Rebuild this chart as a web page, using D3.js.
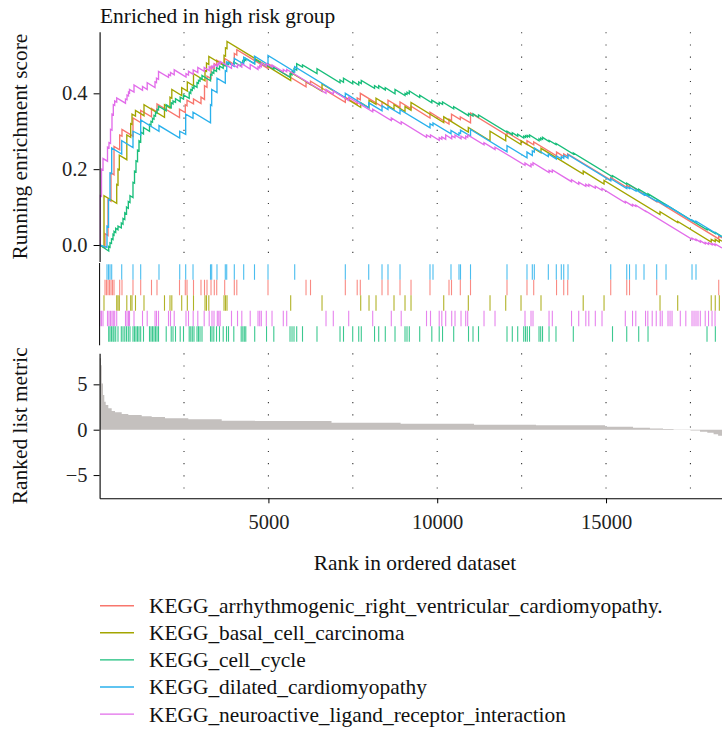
<!DOCTYPE html>
<html>
<head>
<meta charset="utf-8">
<script src="https://cdn.jsdelivr.net/npm/d3@7"></script>
<style>
  html, body { margin: 0; padding: 0; background: #ffffff; }
  svg { display: block; }
</style>
</head>
<body>
<svg id="chart" width="722" height="729" font-family="'Liberation Serif', 'Times New Roman', Times, serif"></svg>
<script>
// ---------------- data ----------------
const geneSets = [
  "KEGG_arrhythmogenic_right_ventricular_cardiomyopathy.",
  "KEGG_basal_cell_carcinoma",
  "KEGG_cell_cycle",
  "KEGG_dilated_cardiomyopathy",
  "KEGG_neuroactive_ligand_receptor_interaction"
];
const setColors = ["#F8766D", "#A3A500", "#19BE7B", "#2AB1EC", "#E26DEA"];
// top-to-bottom order of the hit rows
const rugOrder = [3, 0, 1, 4, 2];

const totalGenes = 18435;
const xTicks = [5000, 10000, 15000];
const gridRanks = [2500, 5000, 7500, 10000, 12500, 15000, 17500];
const esTicks = [0.0, 0.2, 0.4];
const metricTicks = [-5, 0, 5];

// running enrichment score, [rank, score]
const esArrhythmogenic = [[1,0],[160,-0.008],[160,0.03],[249,0.025],[249,0.12],[338,0.115],[338,0.19],[427,0.185],[427,0.26],[595,0.251],[595,0.29],[663,0.287],[663,0.305],[989,0.287],[989,0.335],[1217,0.323],[1217,0.355],[1537,0.338],[1537,0.36],[1700,0.351],[1700,0.372],[2367,0.336],[2367,0.358],[2538,0.349],[2538,0.37],[2589,0.367],[2589,0.382],[2781,0.372],[2781,0.385],[3003,0.373],[3003,0.39],[3107,0.384],[3107,0.42],[3181,0.416],[3181,0.445],[3300,0.439],[3300,0.47],[3397,0.465],[3397,0.478],[3469,0.474],[3469,0.487],[3705,0.474],[3705,0.492],[3990,0.476],[3990,0.505],[4064,0.501],[4064,0.515],[4988,0.465],[4988,0.478],[6114,0.417],[6114,0.43],[6247,0.423],[6247,0.432],[7278,0.376],[7278,0.39],[7630,0.371],[7630,0.388],[7722,0.383],[7722,0.4],[8365,0.365],[8365,0.378],[8542,0.368],[8542,0.382],[8898,0.363],[8898,0.377],[9224,0.359],[9224,0.366],[9786,0.335],[9786,0.35],[10349,0.319],[10349,0.332],[10423,0.328],[10423,0.345],[10684,0.331],[10684,0.338],[10986,0.322],[10986,0.348],[12067,0.289],[12067,0.297],[12659,0.265],[12659,0.275],[12858,0.264],[12858,0.272],[13534,0.235],[13534,0.245],[13747,0.233],[13747,0.24],[13865,0.234],[13865,0.24],[15139,0.171],[15139,0.178],[15613,0.152],[15613,0.158],[15696,0.153],[15696,0.158],[16501,0.114],[16501,0.116],[18338,0.016],[18338,0.024],[18435,0.019]];

const esBasalCell = [[1,0],[130,-0.006],[130,0.13],[507,0.11],[507,0.16],[545,0.158],[545,0.2],[584,0.198],[584,0.237],[806,0.225],[806,0.29],[921,0.284],[921,0.32],[960,0.318],[960,0.345],[1063,0.34],[1063,0.355],[1315,0.341],[1315,0.37],[1922,0.337],[1922,0.37],[2085,0.361],[2085,0.39],[2139,0.387],[2139,0.41],[2432,0.394],[2432,0.415],[2598,0.406],[2598,0.43],[2781,0.42],[2781,0.452],[3122,0.433],[3122,0.46],[3166,0.458],[3166,0.48],[3235,0.476],[3235,0.497],[3685,0.473],[3685,0.5],[3729,0.498],[3729,0.52],[3774,0.518],[3774,0.537],[5660,0.434],[5660,0.455],[6588,0.405],[6588,0.425],[7734,0.363],[7734,0.375],[7980,0.362],[7980,0.382],[8187,0.371],[8187,0.387],[8720,0.358],[8720,0.37],[9046,0.352],[9046,0.365],[9224,0.355],[9224,0.376],[10193,0.323],[10193,0.338],[10921,0.298],[10921,0.31],[11564,0.275],[11564,0.3],[12029,0.275],[12029,0.29],[12482,0.265],[12482,0.275],[13074,0.243],[13074,0.255],[14324,0.187],[14324,0.195],[14941,0.161],[14941,0.17],[16599,0.08],[16599,0.088],[17123,0.059],[17123,0.062],[18116,0.008],[18116,0.015],[18235,0.009],[18235,0.015],[18356,0.008],[18356,0.014],[18435,0.01]];

const esCellCycle = [[1,0],[270,-0.016],[270,-0.004],[308,-0.006],[308,0.006],[352,0.004],[352,0.016],[397,0.014],[397,0.028],[427,0.026],[427,0.036],[477,0.033],[477,0.044],[545,0.04],[545,0.05],[643,0.045],[643,0.058],[693,0.055],[693,0.07],[746,0.067],[746,0.085],[797,0.082],[797,0.1],[850,0.097],[850,0.115],[900,0.112],[900,0.13],[989,0.125],[989,0.165],[1034,0.163],[1034,0.195],[1078,0.193],[1078,0.222],[1123,0.22],[1123,0.25],[1167,0.248],[1167,0.275],[1217,0.272],[1217,0.298],[1300,0.293],[1300,0.31],[1478,0.3],[1478,0.318],[1522,0.316],[1522,0.326],[1567,0.324],[1567,0.334],[1611,0.332],[1611,0.342],[1656,0.34],[1656,0.35],[1700,0.348],[1700,0.358],[1745,0.356],[1745,0.366],[1973,0.354],[1973,0.37],[2121,0.362],[2121,0.375],[2174,0.372],[2174,0.38],[2248,0.376],[2248,0.386],[2387,0.378],[2387,0.39],[2485,0.385],[2485,0.396],[2654,0.387],[2654,0.403],[2701,0.4],[2701,0.41],[2746,0.408],[2746,0.416],[2796,0.413],[2796,0.421],[2885,0.416],[2885,0.428],[2929,0.426],[2929,0.434],[2974,0.432],[2974,0.44],[3033,0.437],[3033,0.447],[3285,0.433],[3285,0.45],[3329,0.448],[3329,0.456],[3383,0.453],[3383,0.462],[3463,0.458],[3463,0.468],[3551,0.463],[3551,0.472],[3661,0.466],[3661,0.476],[3759,0.471],[3759,0.479],[3818,0.476],[3818,0.482],[3975,0.473],[3975,0.483],[4194,0.471],[4194,0.481],[4242,0.478],[4242,0.486],[4286,0.484],[4286,0.489],[4330,0.487],[4330,0.492],[4594,0.478],[4594,0.49],[4944,0.471],[4944,0.476],[5160,0.464],[5160,0.468],[5640,0.442],[5640,0.452],[5699,0.449],[5699,0.458],[5758,0.455],[5758,0.465],[5838,0.461],[5838,0.478],[6010,0.469],[6010,0.475],[6439,0.452],[6439,0.465],[7121,0.428],[7121,0.435],[7224,0.429],[7224,0.44],[7497,0.425],[7497,0.432],[7675,0.422],[7675,0.43],[7751,0.426],[7751,0.434],[8143,0.413],[8143,0.42],[8267,0.413],[8267,0.42],[8462,0.409],[8462,0.415],[8750,0.399],[8750,0.41],[9046,0.394],[9046,0.4],[9105,0.397],[9105,0.403],[9173,0.399],[9173,0.406],[9481,0.389],[9481,0.395],[9840,0.375],[9840,0.382],[10059,0.37],[10059,0.376],[10157,0.371],[10157,0.377],[10488,0.359],[10488,0.365],[10927,0.341],[10927,0.347],[11060,0.34],[11060,0.346],[11223,0.337],[11223,0.343],[12067,0.297],[12067,0.3],[12224,0.291],[12224,0.296],[12384,0.287],[12384,0.292],[12562,0.282],[12562,0.287],[12615,0.284],[12615,0.288],[12668,0.285],[12668,0.289],[12734,0.285],[12734,0.29],[13015,0.275],[13015,0.28],[13065,0.277],[13065,0.282],[13119,0.279],[13119,0.284],[13312,0.273],[13312,0.276],[13518,0.265],[13518,0.268],[14031,0.24],[14031,0.243],[15192,0.18],[15192,0.183],[15613,0.16],[15613,0.163],[15968,0.144],[15968,0.147],[16244,0.132],[16244,0.135],[17991,0.04],[17991,0.043],[18238,0.03],[18238,0.033],[18435,0.022]];

const esDilated = [[1,0],[219,-0.006],[219,0.05],[264,0.048],[264,0.12],[308,0.118],[308,0.19],[358,0.188],[358,0.256],[655,0.24],[655,0.275],[989,0.257],[989,0.3],[1217,0.29],[1217,0.33],[1759,0.3],[1759,0.315],[2373,0.282],[2373,0.3],[2550,0.292],[2550,0.345],[2767,0.334],[2767,0.35],[3285,0.322],[3285,0.37],[3320,0.368],[3320,0.41],[3477,0.402],[3477,0.44],[3723,0.427],[3723,0.46],[3765,0.458],[3765,0.483],[3990,0.471],[3990,0.492],[4268,0.477],[4268,0.495],[4588,0.478],[4588,0.498],[4988,0.476],[4988,0.5],[5779,0.457],[5779,0.47],[7278,0.389],[7278,0.4],[7971,0.362],[7971,0.375],[8365,0.354],[8365,0.367],[8542,0.357],[8542,0.365],[8898,0.346],[8898,0.357],[9786,0.309],[9786,0.32],[9875,0.315],[9875,0.322],[10408,0.293],[10408,0.302],[10645,0.289],[10645,0.296],[10690,0.294],[10690,0.303],[10986,0.287],[10986,0.305],[12067,0.246],[12067,0.262],[12659,0.23],[12659,0.245],[12817,0.236],[12817,0.248],[12876,0.245],[12876,0.256],[13291,0.233],[13291,0.24],[13527,0.227],[13527,0.235],[13675,0.227],[13675,0.233],[13747,0.229],[13747,0.236],[13874,0.229],[13874,0.238],[15139,0.169],[15139,0.175],[15613,0.149],[15613,0.153],[15696,0.149],[15696,0.152],[15888,0.142],[15888,0.145],[16125,0.132],[16125,0.135],[16501,0.115],[16501,0.118],[16777,0.103],[16777,0.106],[17547,0.064],[17547,0.066],[17665,0.06],[17665,0.063],[18435,0.021]];

const esNeuroactive = [[1,0],[12,-0.001],[12,0.13],[56,0.128],[56,0.2],[101,0.198],[101,0.228],[234,0.221],[234,0.258],[278,0.256],[278,0.27],[323,0.268],[323,0.305],[367,0.303],[367,0.345],[406,0.343],[406,0.37],[447,0.368],[447,0.38],[507,0.377],[507,0.388],[767,0.374],[767,0.385],[812,0.383],[812,0.395],[856,0.393],[856,0.403],[886,0.401],[886,0.41],[1019,0.403],[1019,0.422],[1271,0.408],[1271,0.418],[1410,0.41],[1410,0.428],[1641,0.415],[1641,0.43],[1685,0.428],[1685,0.44],[1745,0.437],[1745,0.458],[2041,0.442],[2041,0.45],[2100,0.447],[2100,0.455],[2210,0.449],[2210,0.462],[2559,0.443],[2559,0.452],[2633,0.448],[2633,0.458],[2772,0.45],[2772,0.462],[2909,0.455],[2909,0.468],[3098,0.458],[3098,0.468],[3246,0.46],[3246,0.47],[3329,0.465],[3329,0.472],[3389,0.469],[3389,0.476],[3486,0.471],[3486,0.477],[3531,0.475],[3531,0.48],[3572,0.478],[3572,0.484],[3907,0.466],[3907,0.478],[4085,0.468],[4085,0.476],[4212,0.469],[4212,0.478],[4461,0.464],[4461,0.476],[4692,0.463],[4692,0.47],[4742,0.467],[4742,0.473],[4790,0.47],[4790,0.48],[4938,0.472],[4938,0.478],[5107,0.469],[5107,0.475],[5441,0.457],[5441,0.463],[5542,0.457],[5542,0.463],[6706,0.4],[6706,0.41],[6922,0.398],[6922,0.406],[7378,0.381],[7378,0.39],[8089,0.351],[8089,0.358],[8640,0.328],[8640,0.335],[8933,0.319],[8933,0.325],[9683,0.284],[9683,0.29],[9801,0.284],[9801,0.29],[10059,0.276],[10059,0.283],[10136,0.279],[10136,0.285],[10251,0.279],[10251,0.29],[10429,0.28],[10429,0.288],[10527,0.283],[10527,0.29],[10705,0.28],[10705,0.287],[10844,0.28],[10844,0.287],[10903,0.284],[10903,0.29],[11386,0.264],[11386,0.27],[11712,0.252],[11712,0.258],[12600,0.21],[12600,0.216],[12778,0.206],[12778,0.214],[12837,0.211],[12837,0.217],[13312,0.191],[13312,0.197],[13409,0.192],[13409,0.198],[13978,0.167],[13978,0.172],[14191,0.16],[14191,0.166],[14401,0.155],[14401,0.16],[14490,0.155],[14490,0.16],[14683,0.15],[14683,0.155],[14881,0.144],[14881,0.149],[15571,0.111],[15571,0.115],[15785,0.103],[15785,0.107],[15882,0.102],[15882,0.105],[16170,0.089],[16170,0.09],[17547,0.015],[17547,0.018],[17665,0.012],[17665,0.015],[17793,0.008],[17793,0.011],[17938,0.003],[17938,0.007],[18036,0.002],[18036,0.006],[18140,0.0003],[18140,0.004],[18229,-0.001],[18229,0.003],[18435,-0.008]];

// gene set member positions in the ranked list
const hitsArrhythmogenic = [160,204,249,293,338,382,427,595,663,989,1217,1537,1700,2367,2538,2589,2781,3003,3107,3181,3300,3397,3469,3705,3990,4064,4988,6114,6247,7278,7630,7722,8365,8542,8898,9224,9786,10349,10423,10684,10986,12067,12659,12858,13534,13747,13865,15139,15613,15696,16501,18338];
const hitsBasalCell = [130,507,545,584,806,921,960,1063,1315,1922,2085,2139,2432,2598,2781,3122,3166,3235,3685,3729,3774,5660,6588,7734,7980,8187,8720,9046,9224,10193,10921,11564,12029,12482,13074,14324,14941,16599,17123,18116,18235,18356];
const hitsCellCycle = [270,308,352,397,427,477,545,643,693,746,797,850,900,989,1034,1078,1123,1167,1217,1300,1478,1522,1567,1611,1656,1700,1745,1973,2121,2174,2248,2387,2485,2654,2701,2746,2796,2885,2929,2974,3033,3285,3329,3383,3463,3551,3661,3759,3818,3975,4194,4242,4286,4330,4594,4944,5160,5640,5699,5758,5838,6010,6439,7121,7224,7497,7675,7751,8143,8267,8462,8750,9046,9105,9173,9481,9840,10059,10157,10488,10927,11060,11223,12067,12224,12384,12562,12615,12668,12734,13015,13065,13119,13312,13518,14031,15192,15613,15968,16244,17991,18238];
const hitsDilated = [219,264,308,358,655,989,1217,1759,2373,2550,2767,3285,3320,3477,3723,3765,3990,4268,4588,4988,5779,7278,7971,8365,8542,8898,9786,9875,10408,10645,10690,10986,12067,12659,12817,12876,13291,13527,13675,13747,13874,15139,15613,15696,15888,16125,16501,16777,17547,17665];
const hitsNeuroactive = [12,56,101,234,278,323,367,406,447,507,767,812,856,886,1019,1271,1410,1641,1685,1745,2041,2100,2210,2559,2633,2772,2909,3098,3246,3329,3389,3486,3531,3572,3907,4085,4212,4461,4692,4742,4790,4938,5107,5441,5542,6706,6922,7378,8089,8640,8933,9683,9801,10059,10136,10251,10429,10527,10705,10844,10903,11386,11712,12600,12778,12837,13312,13409,13978,14191,14401,14490,14683,14881,15571,15785,15882,16170,16238,16368,16487,16605,16664,16836,16896,16955,17200,17363,17547,17606,17665,17724,17793,17938,18036,18140,18229];

// ranked list metric, [rank, value]
const rankedMetric = [[1,7.87],[41,7.1],[62,5.1],[101,3.83],[139,3.09],[181,2.72],[258,2.36],[358,2.06],[456,1.92],[655,1.73],[850,1.62],[1247,1.47],[1543,1.4],[1937,1.25],[2627,1.14],[3617,0.99],[4603,0.96],[6869,0.77],[8916,0.66],[11090,0.55],[12926,0.48],[14970,0.33],[15800,0.22],[16300,0.13],[16688,0.07],[17000,0.03],[17221,-0.02],[17500,-0.1],[17784,-0.22],[18000,-0.34],[18186,-0.51],[18320,-0.66],[18435,-0.8]];

const esSeries = [esArrhythmogenic, esBasalCell, esCellCycle, esDilated, esNeuroactive];
const hitSeries = [hitsArrhythmogenic, hitsBasalCell, hitsCellCycle, hitsDilated, hitsNeuroactive];

// ---------------- layout ----------------
const svg = d3.select("#chart");
const left = 99.6, right = 722;
const esTop = 31.7, esBottom = 261.5;
const rugTop = 264.3, rugBottom = 341.7;
const metTop = 353.3, metBottom = 498.3;

const fontFamily = "'Liberation Serif', 'Times New Roman', Times, serif";
const tickFont = 20.5, titleFont = 21.4;

const x = d3.scaleLinear().domain([0, totalGenes]).range([left, right]);
const yES = d3.scaleLinear().domain([-0.0435, 0.5625]).range([esBottom, esTop]);
const yMetric = d3.scaleLinear().domain([-7.56, 8.42]).range([metBottom, metTop]);
const yRug = d3.scaleBand().domain(d3.range(rugOrder.length)).range([rugTop, rugBottom]);

const defs = svg.append("defs");
defs.append("clipPath").attr("id", "clipES")
  .append("rect").attr("x", left).attr("y", esTop).attr("width", right - left).attr("height", esBottom - esTop);
defs.append("clipPath").attr("id", "clipMetric")
  .append("rect").attr("x", left).attr("y", metTop).attr("width", right - left).attr("height", metBottom - metTop);

// dotted vertical grid
function grid(y0, y1) {
  svg.append("g").selectAll("line").data(gridRanks).join("line")
    .attr("x1", d => x(d)).attr("x2", d => x(d))
    .attr("y1", y0).attr("y2", y1)
    .attr("stroke", "#333").attr("stroke-width", 1.1)
    .attr("stroke-dasharray", "1.1,11.1");
}
grid(esTop + 0.5, esBottom);
grid(metTop, metBottom);

// title
svg.append("text").attr("x", 100).attr("y", 22.5)
  .attr("font-size", titleFont).attr("fill", "#111")
  .text("Enriched in high risk group");

// running score lines
const esLine = d3.line().x(d => x(d[0])).y(d => yES(d[1]));
svg.append("g").attr("clip-path", "url(#clipES)")
  .selectAll("path").data(esSeries).join("path")
  .attr("d", esLine)
  .attr("fill", "none")
  .attr("stroke", (d, i) => setColors[i])
  .attr("stroke-width", 1.35);

// top panel y axis
const axES = svg.append("g").attr("transform", `translate(${left},0)`)
  .call(d3.axisLeft(yES).tickValues(esTicks).tickFormat(d3.format(".1f")).tickSize(6).tickSizeOuter(0).tickPadding(6));

// hit rows
rugOrder.forEach((si, row) => {
  svg.append("g").selectAll("line").data(hitSeries[si]).join("line")
    .attr("x1", d => x(d)).attr("x2", d => x(d))
    .attr("y1", yRug(row)).attr("y2", yRug(row) + yRug.bandwidth())
    .attr("stroke", setColors[si]).attr("stroke-opacity", 0.85).attr("stroke-width", 1.1);
});
svg.append("line").attr("x1", left).attr("x2", left)
  .attr("y1", esBottom + 1.5).attr("y2", metTop - 8)
  .attr("stroke", "#000").attr("stroke-width", 1);

// ranked list metric
const metricArea = d3.area().curve(d3.curveStepAfter)
  .x(d => x(d[0])).y0(yMetric(0)).y1(d => yMetric(d[1]));
svg.append("path").datum(rankedMetric)
  .attr("clip-path", "url(#clipMetric)")
  .attr("d", metricArea)
  .attr("fill", "#c4c0be");

const axMet = svg.append("g").attr("transform", `translate(${left},0)`)
  .call(d3.axisLeft(yMetric).tickValues(metricTicks).tickFormat(d => d < 0 ? "\u2212" + Math.abs(d) : d).tickSize(6).tickSizeOuter(0).tickPadding(6));

const axX = svg.append("g").attr("transform", `translate(0,${metBottom})`)
  .call(d3.axisBottom(x).tickValues(xTicks).tickFormat(d3.format("d")).tickSize(5).tickSizeOuter(0).tickPadding(11.5));

[axES, axMet, axX].forEach(g => {
  g.attr("font-family", fontFamily).attr("font-size", tickFont);
  g.selectAll("text").attr("fill", "#222");
  g.selectAll("line").attr("stroke", "#000");
  g.select(".domain").attr("stroke", "#000").attr("stroke-width", 1.1);
});

// axis titles
svg.append("text").attr("transform", `translate(27,${(esTop + esBottom) / 2}) rotate(-90)`)
  .attr("text-anchor", "middle").attr("font-size", titleFont).attr("fill", "#111")
  .text("Running enrichment score");
svg.append("text").attr("transform", `translate(27,${(metTop + metBottom) / 2}) rotate(-90)`)
  .attr("text-anchor", "middle").attr("font-size", titleFont).attr("fill", "#111")
  .text("Ranked list metric");
svg.append("text").attr("x", 415).attr("y", 570)
  .attr("text-anchor", "middle").attr("font-size", titleFont).attr("fill", "#111")
  .text("Rank in ordered dataset");

// legend
const legend = svg.append("g");
geneSets.forEach((name, i) => {
  const cy = 605.7 + i * 27.1;
  legend.append("line").attr("x1", 100).attr("x2", 134).attr("y1", cy).attr("y2", cy)
    .attr("stroke", setColors[i]).attr("stroke-width", 1.4);
  legend.append("text").attr("x", 149).attr("y", cy).attr("dy", "0.35em")
    .attr("font-size", titleFont).attr("fill", "#111").text(name);
});
</script>
</body>
</html>
